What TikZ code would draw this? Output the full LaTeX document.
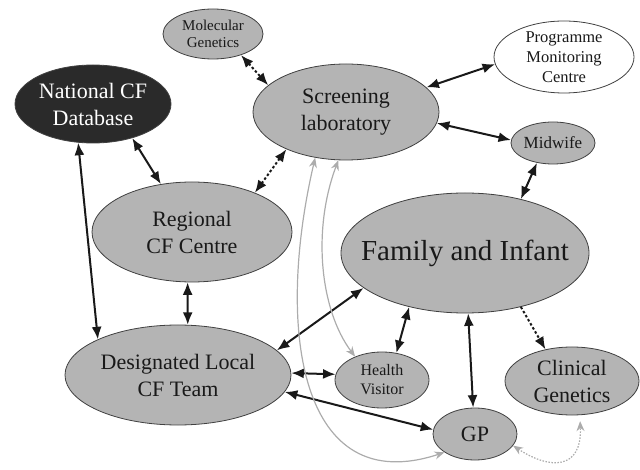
\documentclass[tikz,border=0pt]{standalone}
\usepackage{fontspec}
\setmainfont{Liberation Serif}
\usetikzlibrary{shapes.geometric,arrows.meta}
\definecolor{boxgrey}{RGB}{180,180,180}
\definecolor{darkbox}{RGB}{42,42,42}
\definecolor{curvegrey}{RGB}{172,172,172}
\tikzset{
  ent/.style={ellipse, draw=black!75, line width=0.8pt, fill=boxgrey, inner sep=0pt},
  lab/.style={align=center, text=black!90},
  fbig/.style={lab, font=\rmfamily\fontsize{22}{27}\selectfont},
  fhuge/.style={lab, font=\rmfamily\fontsize{29}{34}\selectfont},
  fmid/.style={lab, font=\rmfamily\fontsize{16.5}{20}\selectfont},
  fsmall/.style={lab, font=\rmfamily\fontsize{15}{17}\selectfont},
  arr/.style={{Latex[length=12.5pt,width=10pt]}-{Latex[length=12.5pt,width=10pt]}, line width=2pt, black!90},
  dotarr/.style={arr, dash pattern=on 2.5pt off 2.2pt},
  dotone/.style={-{Latex[length=12.5pt,width=10pt]}, line width=2pt, black!90, dash pattern=on 2.5pt off 2.2pt},
  garr/.style={{Stealth[length=10pt,width=8pt]}-{Stealth[length=10pt,width=8pt]}, line width=1.2pt, curvegrey},
  gdot/.style={garr, dash pattern=on 1.5pt off 1.5pt}
}
\begin{document}
\begin{tikzpicture}[x=1pt,y=-1pt]
\useasboundingbox (0,0) rectangle (640,470);
% nodes
\node[ent, minimum width=100pt, minimum height=50pt,
  label={[fsmall]center:Molecular\\Genetics}] (MG) at (213,34) {};
\node[ent, minimum width=186pt, minimum height=96pt,
  label={[fbig]center:Screening\\laboratory}] (SL) at (346,112) {};
\node[ent, fill=white, minimum width=140pt, minimum height=72pt,
  label={[fmid]center:Programme\\Monitoring\\Centre}] (PMC) at (564,57) {};
\node[ent, minimum width=84pt, minimum height=42pt,
  label={[lab, font=\rmfamily\fontsize{17}{20}\selectfont]center:Midwife}] (MW) at (553,143) {};
\node[ent, fill=darkbox, minimum width=156pt, minimum height=78pt,
  label={[fbig, text=white]center:National CF\\Database}] (NDB) at (93,104) {};
\node[ent, minimum width=200pt, minimum height=100pt,
  label={[fbig]center:Regional\\CF Centre}] (RCF) at (192,232) {};
\node[ent, minimum width=248pt, minimum height=120pt,
  label={[fhuge]center:Family and Infant}] (FI) at (465,253) {};
\node[ent, minimum width=226pt, minimum height=100pt,
  label={[fbig]center:Designated Local\\CF Team}] (DL) at (178,375) {};
\node[ent, minimum width=94pt, minimum height=56pt,
  label={[lab, font=\rmfamily\fontsize{16}{19}\selectfont]center:Health\\Visitor}] (HV) at (382,380) {};
\node[ent, minimum width=134pt, minimum height=68pt,
  label={[fbig]center:Clinical\\Genetics}] (CG) at (572,381) {};
\node[ent, minimum width=84pt, minimum height=52pt,
  label={[fbig]center:GP}] (GP) at (475,434) {};
% connectors
\draw[dotarr] (MG.-37) -- (SL.161);
\draw[arr] (SL.17) -- (PMC.186);
\draw[arr] (SL.-7) -- (MW.176);
\draw[arr] (MW.231) -- (FI.44);
\draw[arr] (NDB.-41) -- (RCF.123);
\draw[dotarr] (SL.212) -- (RCF.32);
\draw[arr] (NDB.249) -- (DL.156);
\draw[arr] (RCF.265) -- (DL.79);
\draw[arr] (FI.199) -- (DL.14);
\draw[arr] (DL.1) -- (HV.173);
\draw[arr] (DL.-9) -- (GP.174);
\draw[arr] (FI.224) -- (HV.62);
\draw[arr] (FI.273) -- (GP.94);
\draw[dotone] (FI.-44) -- (CG.130);
% grey curves
\draw[garr] (SL.261) .. controls (312,230) and (320,310) .. (HV.139);
\draw[garr] (SL.236) .. controls (275,330) and (300,500) .. (GP.211);
\draw[gdot, shorten >=6pt] (GP.-17) .. controls (550,470) and (582,470) .. (CG.283);
\end{tikzpicture}
\end{document}
